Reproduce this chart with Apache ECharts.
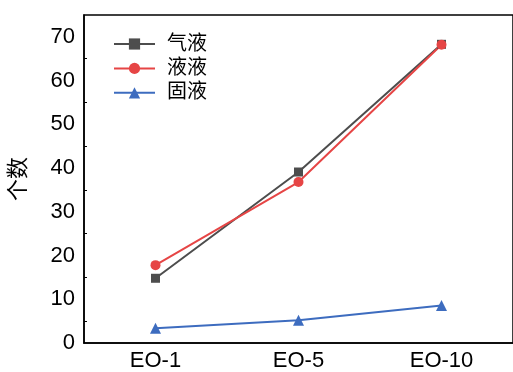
<!DOCTYPE html>
<html>
<head>
<meta charset="utf-8">
<script src="https://cdn.jsdelivr.net/npm/echarts@6/dist/echarts.min.js"></script>
<style>
  html, body { margin: 0; padding: 0; background: #fff; }
  #chart { width: 513px; height: 372px; }
</style>
</head>
<body>
<div id="chart"></div>
<script>
// Sample categories and counts per phase type
var categories = ['EO-1', 'EO-5', 'EO-10'];
var gasLiquid = [14.8, 39.1, 68.3];
var liquidLiquid = [17.8, 36.8, 68.2];
var solidLiquid = [3.4, 5.2, 8.6];
var seriesNames = ['气液', '液液', '固液'];

var FONT = '"Liberation Sans", Arial, "Noto Sans CJK SC", sans-serif';

function makeLine(name, data, color, symbol, size) {
  return {
    name: name,
    type: 'line',
    data: data,
    symbol: symbol,
    symbolSize: size,
    lineStyle: { color: color, width: 2 },
    itemStyle: { color: color },
    emphasis: { disabled: true }
  };
}

var chart = echarts.init(document.getElementById('chart'), null, { renderer: 'canvas' });
chart.setOption({
  animation: false,
  backgroundColor: '#fff',
  grid: {
    left: 83, top: 15, width: 432, height: 329,
    show: true, borderColor: '#000', borderWidth: 1.5, backgroundColor: 'transparent'
  },
  legend: {
    orient: 'vertical',
    left: 113, top: 33,
    padding: 0,
    itemWidth: 41, itemHeight: 14, itemGap: 2.4,
    textStyle: { fontFamily: FONT, fontSize: 20, color: '#000', lineHeight: 22, padding: [0, 0, 0, 7] },
    data: seriesNames
  },
  xAxis: {
    type: 'category',
    data: categories,
    boundaryGap: true,
    axisLine: { lineStyle: { color: '#000', width: 1.5 } },
    axisTick: { inside: true, alignWithLabel: true, length: 5, lineStyle: { color: '#000', width: 1.2 } },
    axisLabel: { fontFamily: FONT, fontSize: 22, color: '#000', margin: 7 },
    splitLine: { show: false }
  },
  yAxis: {
    type: 'value',
    min: 0, max: 75, interval: 10,
    name: '个数',
    nameLocation: 'middle',
    nameGap: 54,
    nameRotate: 90,
    nameTextStyle: { fontFamily: FONT, fontSize: 22, color: '#000' },
    axisLine: { show: true, lineStyle: { color: '#000', width: 1.5 } },
    axisTick: { inside: true, length: 5, lineStyle: { color: '#000', width: 1.2 } },
    minorTick: { show: true, splitNumber: 2, length: 3, lineStyle: { color: '#000', width: 1 } },
    axisLabel: { fontFamily: FONT, fontSize: 22, color: '#000', margin: 9,
      formatter: function (v) { return v > 70 ? '' : v; } },
    splitLine: { show: false }
  },
  series: [
    makeLine(seriesNames[0], gasLiquid, '#4d4d4d', 'rect', 9),
    makeLine(seriesNames[1], liquidLiquid, '#e64545', 'circle', 10),
    makeLine(seriesNames[2], solidLiquid, '#3d6cbf', 'triangle', 11)
  ]
});
</script>
</body>
</html>
